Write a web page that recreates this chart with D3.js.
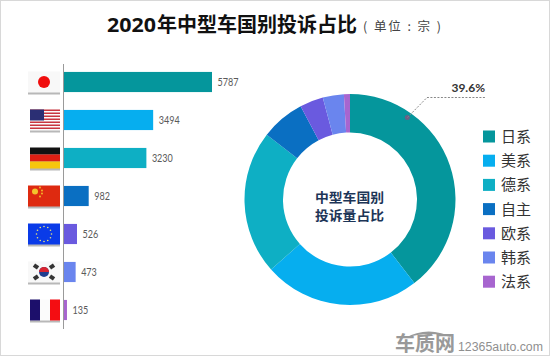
<!DOCTYPE html>
<html>
<head>
<meta charset="utf-8">
<script src="https://cdn.jsdelivr.net/npm/d3@7"></script>
<style>
  html, body { margin: 0; padding: 0; background: #fff; }
  svg { display: block; }
  text { font-family: "Noto Sans CJK SC", "Noto Sans", sans-serif; }
</style>
</head>
<body>
<div id="chart"></div>
<script>
const WIDTH = 550;
const HEIGHT = 356;

const categories = ["日系", "美系", "德系", "自主", "欧系", "韩系", "法系"];
const complaints = [5787, 3494, 3230, 982, 526, 473, 135];
const flags = ["jp", "us", "de", "cn", "eu", "kr", "fr"];
const colorScheme = ["#05969c", "#06aeef", "#0eafc4", "#0a6fc2", "#6a5adf", "#6a85ee", "#a765cf"];
const topShare = "39.6%";

const svg = d3.select("#chart").append("svg")
  .attr("width", WIDTH)
  .attr("height", HEIGHT);

// image frame
svg.append("rect")
  .attr("x", 0.5).attr("y", 0.5)
  .attr("width", WIDTH - 1).attr("height", HEIGHT - 1)
  .attr("fill", "#fff").attr("stroke", "#d8d8d8");

// title, digits are wider in the reference so they get their own length
svg.append("text")
  .attr("x", 107).attr("y", 32)
  .attr("font-size", 20).attr("font-weight", 700).attr("fill", "#111")
  .style("font-family", "'Open Sans', sans-serif")
  .attr("textLength", 49).attr("lengthAdjust", "spacingAndGlyphs")
  .text("2020");
svg.append("text")
  .attr("x", 157).attr("y", 32)
  .attr("font-size", 20).attr("font-weight", 700).attr("fill", "#111")
  .text("年中型车国别投诉占比");
svg.append("text")
  .attr("x", 363).attr("y", 31)
  .attr("font-size", 12.5).attr("fill", "#444")
  .attr("textLength", 78)
  .text("( 单位 : 宗 )");

// bars
const x = d3.scaleLinear().domain([0, d3.max(complaints)]).range([63.5, 212]);
const y = d3.scaleBand().domain(categories).range([63, 329]).paddingInner(0.47).paddingOuter(0.235);

svg.selectAll(".bar")
  .data(categories)
  .enter()
  .append("rect")
  .attr("class", "bar")
  .attr("x", x(0))
  .attr("y", (d) => y(d))
  .attr("width", (d, i) => x(complaints[i]) - x(0))
  .attr("height", y.bandwidth())
  .attr("fill", (d, i) => colorScheme[i]);

svg.append("line")
  .attr("x1", 63.5).attr("x2", 63.5)
  .attr("y1", 64).attr("y2", 329)
  .attr("stroke", "#9a9a9a");

svg.selectAll(".bar-label")
  .data(categories)
  .enter()
  .append("text")
  .attr("class", "bar-label")
  .attr("x", (d, i) => x(complaints[i]) + 5.5)
  .attr("y", (d) => y(d) + y.bandwidth() / 2 + 4)
  .attr("font-size", 10.5)
  .style("font-family", "Lato, sans-serif")
  .attr("fill", "#5a5a5a")
  .attr("textLength", (d, i) => String(complaints[i]).length * 5.25)
  .attr("lengthAdjust", "spacingAndGlyphs")
  .text((d, i) => complaints[i]);

// flags, drawn in a 32x21 box around the bar centre
function drawFlag(g, name) {
  const w = 32, h = 21;
  const band = (yy, hh, c, xx = 0, ww = w) =>
    g.append("rect").attr("x", xx).attr("y", yy).attr("width", ww).attr("height", hh).attr("fill", c);
  g.append("rect").attr("x", name === "us" || name === "de" || name === "fr" ? 2 : 0).attr("y", 2)
    .attr("width", name === "us" || name === "de" || name === "fr" ? 30 : w).attr("height", h)
    .attr("fill", "#888").attr("opacity", 0.6);
  if (name === "jp") {
    band(0, h, "#f8f8f8");
    g.append("circle").attr("cx", w / 2).attr("cy", h / 2).attr("r", 6).attr("fill", "#f00d0d");
  } else if (name === "us") {
    band(0, h, "#fbfbfb", 2, 30);
    d3.range(7).forEach((i) => band(i * 3, 1.5, "#c8353f", 2, 30));
    band(0, 11, "#2b2f74", 2, 14);
  } else if (name === "de") {
    band(0, 7, "#111", 2, 30);
    band(7, 7, "#dd1f13", 2, 30);
    band(14, 7, "#f7c60c", 2, 30);
  } else if (name === "cn") {
    band(0, h, "#de2a10");
    g.append("circle").attr("cx", 7).attr("cy", 6).attr("r", 3).attr("fill", "#f3c52c");
    [[12, 2], [14, 5], [14, 8], [12, 11]].forEach((p) =>
      g.append("circle").attr("cx", p[0]).attr("cy", p[1]).attr("r", 0.9).attr("fill", "#f3c52c"));
  } else if (name === "eu") {
    band(0, h, "#0a3be8");
    d3.range(12).forEach((i) => {
      const p = d3.pointRadial(i * Math.PI / 6, 7.5);
      g.append("circle").attr("cx", w / 2 + p[0]).attr("cy", h / 2 + p[1]).attr("r", 0.8).attr("fill", "#e8e27a");
    });
  } else if (name === "kr") {
    band(0, h, "#f8f8f8");
    g.append("circle").attr("cx", w / 2).attr("cy", h / 2).attr("r", 5).attr("fill", "#1f3d8f");
    g.append("path").attr("d", "M11 10.5A5 5 0 0 1 21 10.5Z").attr("fill", "#d8232f");
    [[8, 5, 35], [24, 5, -35], [8, 16, -35], [24, 16, 35]].forEach((p) =>
      g.append("rect").attr("x", p[0] - 2.5).attr("y", p[1] - 2).attr("width", 5).attr("height", 4)
        .attr("transform", `rotate(${p[2]} ${p[0]} ${p[1]})`).attr("fill", "#333"));
  } else if (name === "fr") {
    band(0, h, "#fbfbfb", 2, 30);
    band(0, h, "#1c0f6b", 2, 10);
    band(0, h, "#f40d12", 22, 10);
  }
}

flags.forEach((name, i) => {
  const g = svg.append("g")
    .attr("transform", `translate(28,${y(categories[i]) + y.bandwidth() / 2 - 10.5})`);
  drawFlag(g, name);
});

// donut
const cx = 350, cy = 199.5;
const pie = d3.pie().sort(null).value((d) => d);
const arc = d3.arc().innerRadius(67).outerRadius(105.5);

const donut = svg.append("g").attr("transform", `translate(${cx},${cy})`);
donut.selectAll(".slice")
  .data(pie(complaints))
  .enter()
  .append("path")
  .attr("class", "slice")
  .attr("d", arc)
  .attr("fill", (d, i) => colorScheme[i]);

donut.append("text")
  .attr("x", -35).attr("y", 2)
  .attr("font-size", 13).attr("font-weight", 700).attr("fill", "#1d3557")
  .attr("textLength", 69).attr("lengthAdjust", "spacingAndGlyphs")
  .text("中型车国别");
donut.append("text")
  .attr("x", -35).attr("y", 20.8)
  .attr("font-size", 13).attr("font-weight", 700).attr("fill", "#1d3557")
  .attr("textLength", 69).attr("lengthAdjust", "spacingAndGlyphs")
  .text("投诉量占比");

// callout for the biggest slice
const tip = d3.pointRadial(35 * Math.PI / 180, 100);
donut.append("circle").attr("cx", tip[0]).attr("cy", tip[1]).attr("r", 2.5).attr("fill", "#6b5f86");
svg.append("path")
  .attr("d", d3.line()([[cx + tip[0], cy + tip[1]], [427, 97.5], [485, 97.5]]))
  .attr("fill", "none").attr("stroke", "#888").attr("stroke-dasharray", "2,1.5");
svg.append("text")
  .attr("x", 485).attr("y", 91.5).attr("text-anchor", "end")
  .attr("font-size", 12).attr("font-weight", 700).attr("fill", "#333")
  .style("font-family", "Lato, sans-serif")
  .text(topShare);

// legend
const legendY = d3.scalePoint().domain(categories).range([136.5, 281.7]);
svg.selectAll(".legend-box")
  .data(categories)
  .enter()
  .append("rect")
  .attr("class", "legend-box")
  .attr("x", 483).attr("y", (d) => legendY(d) - 6)
  .attr("width", 12).attr("height", 12)
  .attr("fill", (d, i) => colorScheme[i]);
svg.selectAll(".legend-label")
  .data(categories)
  .enter()
  .append("text")
  .attr("class", "legend-label")
  .attr("x", 501).attr("y", (d) => legendY(d) + 5.5)
  .attr("font-size", 15).attr("fill", "#333")
  .text((d) => d);

// watermark
svg.append("path")
  .attr("d", "M405 338Q428 325 454 338Q430 330 405 338Z")
  .attr("fill", "#9a9a9a");
svg.append("text")
  .attr("x", 395).attr("y", 351)
  .attr("font-size", 20).attr("font-weight", 700).attr("fill", "#999")
  .attr("textLength", 60).attr("lengthAdjust", "spacingAndGlyphs")
  .text("车质网");
svg.append("text")
  .attr("x", 458).attr("y", 351)
  .attr("font-size", 12).attr("fill", "#8f8f8f")
  .style("font-family", "'Liberation Sans', sans-serif")
  .attr("textLength", 85).attr("lengthAdjust", "spacingAndGlyphs")
  .text("12365auto.com");
</script>
</body>
</html>
